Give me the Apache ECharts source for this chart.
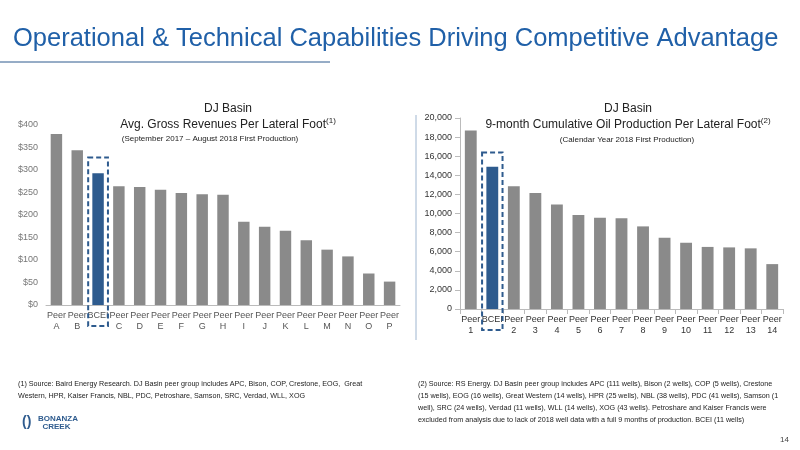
<!DOCTYPE html>
<html><head><meta charset="utf-8">
<script src="https://cdn.jsdelivr.net/npm/echarts@6/dist/echarts.min.js"></script>
<style>html,body{margin:0;padding:0;background:#fff}#c{width:800px;height:450px}</style>
</head><body><div id="c"></div>
<script>
const leftCats = ['Peer\nA','Peer\nB','BCEI','Peer\nC','Peer\nD','Peer\nE','Peer\nF','Peer\nG','Peer\nH','Peer\nI','Peer\nJ','Peer\nK','Peer\nL','Peer\nM','Peer\nN','Peer\nO','Peer\nP'];
const leftVals = [380,344,293,264,262,256,249,246,245,185,174,165,144,123,108,70,52];
const rightCats = ['Peer\n1','BCEI','Peer\n2','Peer\n3','Peer\n4','Peer\n5','Peer\n6','Peer\n7','Peer\n8','Peer\n9','Peer\n10','Peer\n11','Peer\n12','Peer\n13','Peer\n14'];
const rightVals = [18700,14900,12850,12150,10950,9850,9550,9500,8650,7450,6950,6500,6450,6350,4700];
const leftTicks = [0,50,100,150,200,250,300,350,400];
const rightTicks = [0,2000,4000,6000,8000,10000,12000,14000,16000,18000,20000];
const leftBox = [[2,328]];
const rightBox = [[1,16400]];

const GREY = '#8a8a8a', BLUE = '#2e5b8e';
const font = 'Liberation Sans, Arial, sans-serif';
function colored(cats, vals){return vals.map((v,i)=>({value:v,itemStyle:{color:cats[i]==='BCEI'?BLUE:GREY}}));}
function box(xi, yi){
  return {type:'custom', xAxisIndex:xi, yAxisIndex:yi, silent:true, z:10,
    renderItem:(params, api)=>{
      const top = api.coord([api.value(0), api.value(1)]);
      const base = api.coord([api.value(0), 0]);
      const w = api.size([1,0])[0]*0.95;
      return {type:'rect', shape:{x:top[0]-w/2, y:top[1], width:w, height:base[1]-top[1]+21},
        style:{fill:'none', stroke:BLUE, lineWidth:2, lineDash:[5,3]}};
    }};
}
const chart = echarts.init(document.getElementById('c'));
chart.setOption({
  animation:false,
  textStyle:{fontFamily:font},
  title:[
    {text:'Operational & Technical Capabilities Driving Competitive Advantage', left:8, top:21, textStyle:{fontFamily:font, fontSize:25.5, fontWeight:'normal', color:'#2060a8'}},
    {text:'DJ Basin\n{m|Avg. Gross Revenues Per Lateral Foot}{s|(1)}', left:223, top:96, textAlign:'center', textStyle:{fontFamily:font, fontSize:12, fontWeight:'normal', color:'#222', lineHeight:16, rich:{m:{fontSize:12,color:'#222'},s:{fontSize:8,verticalAlign:'top',color:'#222',padding:[0,0,6,0]}}}},
    {text:'(September 2017 – August 2018 First Production)', left:205, top:130, textAlign:'center', textStyle:{fontFamily:font, fontSize:8, fontWeight:'normal', color:'#222'}},
    {text:'DJ Basin\n{m|9-month Cumulative Oil Production Per Lateral Foot}{s|(2)}', left:623, top:96, textAlign:'center', textStyle:{fontFamily:font, fontSize:12, fontWeight:'normal', color:'#222', lineHeight:16, rich:{m:{fontSize:12,color:'#222'},s:{fontSize:8,verticalAlign:'top',color:'#222',padding:[0,0,6,0]}}}},
    {text:'(Calendar Year 2018 First Production)', left:622, top:131, textAlign:'center', textStyle:{fontFamily:font, fontSize:8, fontWeight:'normal', color:'#222'}}
  ],
  grid:[
    {left:46, right:400, top:125, bottom:145},
    {left:460, right:17, top:118, bottom:141}
  ],
  xAxis:[
    {type:'category', gridIndex:0, data:leftCats, axisTick:{show:false}, axisLine:{lineStyle:{color:'#bbb'}}, axisLabel:{color:'#555', fontSize:9, lineHeight:11, interval:0, margin:5}},
    {type:'category', gridIndex:1, data:rightCats, axisTick:{show:true, lineStyle:{color:'#bbb'}}, axisLine:{lineStyle:{color:'#bbb'}}, axisLabel:{color:'#333', fontSize:9, lineHeight:11, interval:0, margin:5}}
  ],
  yAxis:[
    {type:'value', gridIndex:0, min:leftTicks[0], max:leftTicks[leftTicks.length-1], interval:50, splitLine:{show:false}, axisLabel:{color:'#777', fontSize:9, formatter:v=>'$'+v}},
    {type:'value', gridIndex:1, min:rightTicks[0], max:rightTicks[rightTicks.length-1], interval:2000, splitLine:{show:false}, axisLine:{show:true, lineStyle:{color:'#bbb'}}, axisTick:{show:true, lineStyle:{color:'#bbb'}}, axisLabel:{color:'#333', fontSize:9, formatter:v=>v.toLocaleString('en-US')}}
  ],
  series:[
    {type:'bar', xAxisIndex:0, yAxisIndex:0, data:colored(leftCats,leftVals), barWidth:'55%'},
    {type:'bar', xAxisIndex:1, yAxisIndex:1, data:colored(rightCats,rightVals), barWidth:'55%'},
    Object.assign(box(0,0),{data:leftBox}),
    Object.assign(box(1,1),{data:rightBox})
  ],
  graphic:[
    {type:'line', shape:{x1:0,y1:62,x2:330,y2:62}, style:{stroke:'#2e5b8e', lineWidth:1}},
    {type:'line', shape:{x1:416,y1:115,x2:416,y2:340}, style:{stroke:'#9fb6d0', lineWidth:1}},
    {type:'text', left:18, top:378, style:{text:'(1) Source: Baird Energy Research. DJ Basin peer group includes APC, Bison, COP, Crestone, EOG,  Great\nWestern, HPR, Kaiser Francis, NBL, PDC, Petroshare, Samson, SRC, Verdad, WLL, XOG', font:'7.2px '+font, fill:'#222', lineHeight:12}},
    {type:'text', left:418, top:378, style:{text:'(2) Source: RS Energy. DJ Basin peer group includes APC (111 wells), Bison (2 wells), COP (5 wells), Crestone\n(15 wells), EOG (16 wells), Great Western (14 wells), HPR (25 wells), NBL (38 wells), PDC (41 wells), Samson (1\nwell), SRC (24 wells), Verdad (11 wells), WLL (14 wells), XOG (43 wells). Petroshare and Kaiser Francis were\nexcluded from analysis due to lack of 2018 well data with a full 9 months of production. BCEI (11 wells)', font:'7.2px '+font, fill:'#222', lineHeight:12}},
    {type:'text', left:22, top:415, style:{text:'\u0028\u0029', font:'bold 14px '+font, fill:'#2e5b8e'}},
    {type:'text', left:38, top:415, style:{text:'BONANZA\n  CREEK', font:'bold 8px '+font, fill:'#2e5b8e', lineHeight:8}},
    {type:'text', left:780, top:436, style:{text:'14', font:'8px '+font, fill:'#444'}}
  ]
});
</script></body></html>
